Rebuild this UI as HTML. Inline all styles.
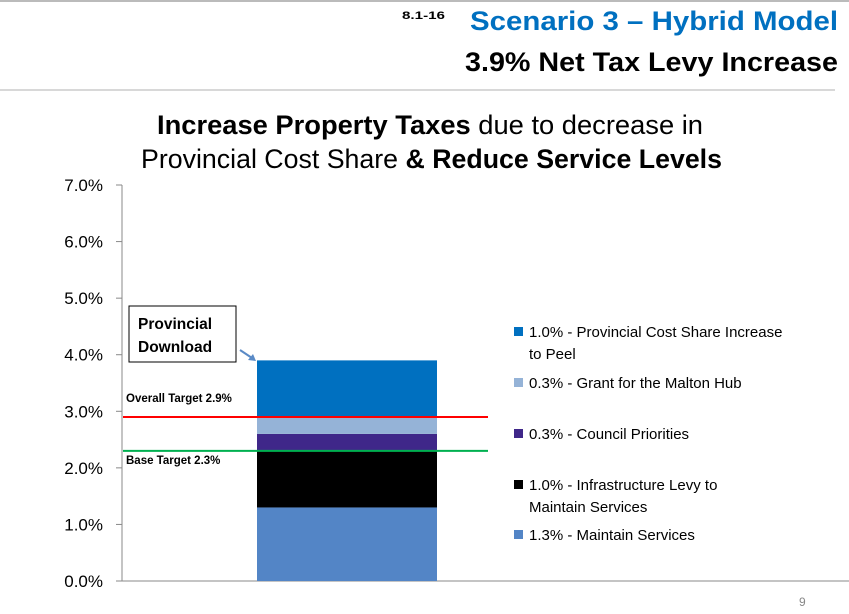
<!DOCTYPE html>
<html><head><meta charset="utf-8"><style>
body{margin:0;background:#fff;}
svg text{font-family:"Liberation Sans",sans-serif;}
</style></head><body>
<svg id="c" width="849" height="609" xmlns="http://www.w3.org/2000/svg">
<line x1="0" y1="1" x2="849" y2="1" stroke="#bbb" stroke-width="2"/>
<line x1="0" y1="90" x2="835" y2="90" stroke="#ccc" stroke-width="1.5"/>
<text x="402" y="19" font-size="11" font-weight="bold" textLength="43" lengthAdjust="spacingAndGlyphs">8.1-16</text>
<text x="470" y="30" font-size="27" font-weight="bold" fill="#0070C0" textLength="368" lengthAdjust="spacingAndGlyphs">Scenario 3 – Hybrid Model</text>
<text x="465" y="71" font-size="27" font-weight="bold" fill="#000" textLength="373" lengthAdjust="spacingAndGlyphs">3.9% Net Tax Levy Increase</text>
<text x="157" y="134" font-size="27" textLength="546" lengthAdjust="spacingAndGlyphs"><tspan font-weight="bold">Increase Property Taxes</tspan> due to decrease in</text>
<text x="141" y="168" font-size="27" textLength="581" lengthAdjust="spacingAndGlyphs">Provincial Cost Share <tspan font-weight="bold">&amp; Reduce Service Levels</tspan></text>
<g id="axis"></g><g id="bars"></g><g id="legend"></g>
<rect x="129" y="306" width="107" height="56" fill="#fff" stroke="#000" stroke-width="1"/>
<text x="138" y="329" font-size="15.5" font-weight="bold">Provincial</text>
<text x="138" y="352" font-size="15.5" font-weight="bold">Download</text>
<path d="M240 350 L252 358" stroke="#5A8AC6" stroke-width="2"/>
<polygon points="256,361 248,360 253,354" fill="#5A8AC6"/>
<text x="799" y="606" font-size="12" fill="#888">9</text>
</svg>
<script>
const categories=["1.3% - Maintain Services","1.0% - Infrastructure Levy to|Maintain Services","0.3% - Council Priorities","0.3% - Grant for the Malton Hub","1.0% - Provincial Cost Share Increase|to Peel"];
const values=[1.3,1.0,0.3,0.3,1.0];
const colors=["#5385C6","#000000","#3F2789","#95B3D7","#0070C0"];
const ticks=[0,1,2,3,4,5,6,7];
const targets=[2.9,2.3];
const targetLabels=["Overall Target 2.9%","Base Target 2.3%"];
const targetColors=["#FF0000","#00B050"];
const NS="http://www.w3.org/2000/svg";
const y0=581,pxPer=56.57;
const y=v=>y0-v*pxPer;
function mk(t,a,p){const e=document.createElementNS(NS,t);for(const k in a)e.setAttribute(k,a[k]);p.appendChild(e);return e;}
const ax=document.getElementById('axis');
let l=mk('line',{x1:122,y1:y(0),x2:122,y2:y(7),stroke:'#888'},ax);


l=mk('line',{x1:122,y1:y(0),x2:860,y2:y(0),stroke:'#888'},ax);


ticks.forEach(t=>{
 let tk=mk('line',{x1:116,y1:y(t),x2:122,y2:y(t),stroke:'#888'},ax);
 
 
 let tx=mk('text',{x:103,y:y(t)+6,'font-size':17,'text-anchor':'end'},ax);
 tx.textContent=t.toFixed(1)+'%';
 
 
});
const bg=document.getElementById('bars');
let cum=0;
values.forEach((v,i)=>{
 let r=mk('rect',{x:257,width:180,y:y(cum+v),height:v*pxPer,fill:colors[i]},bg);
 
 
 cum+=v;
});
targets.forEach((t,i)=>{
 let ln=mk('line',{x1:123,x2:488,y1:y(t),y2:y(t),stroke:targetColors[i],'stroke-width':2},bg);
 
 
 let tx=mk('text',{x:126,y:i==0?y(t)-15:y(t)+13,'font-size':11.5,'font-weight':'bold'},bg);
 tx.textContent=targetLabels[i];
 
 
});
const lg=document.getElementById('legend');
const legY=[540,490,439,388,337];
categories.forEach((c,i)=>{
 let s=mk('rect',{x:514,y:legY[i]-10,width:9,height:9,fill:colors[i]},lg);
 
 
 c.split('|').forEach((ln,j)=>{
  let tx=mk('text',{x:529,y:legY[i]+j*22,'font-size':15},lg);
  tx.textContent=ln;
  
  
 });
});
</script>
</body></html>
